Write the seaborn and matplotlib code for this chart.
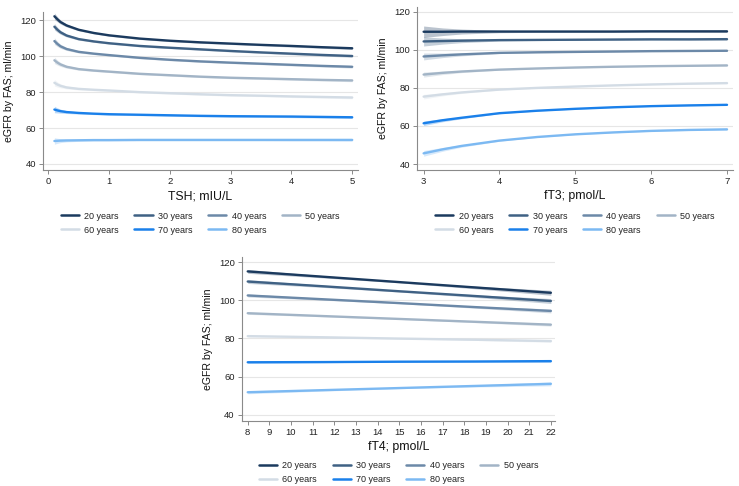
import numpy as np
import pandas as pd
import matplotlib
matplotlib.use("Agg")
import matplotlib.pyplot as plt
import seaborn as sns

sns.set_style("white")
plt.rcParams['font.family'] = ['Liberation Sans', 'DejaVu Sans']

ages = ["20 years", "30 years", "40 years", "50 years", "60 years", "70 years", "80 years"]
colors = ["#1b3a5e", "#3f6184", "#6c89a8", "#a2b4c6", "#d3dce5", "#1a80ea", "#7cb9f2"]

# TSH panel
tsh_x = [0.1, 0.15, 0.2, 0.3, 0.5, 0.75, 1, 1.5, 2, 2.5, 3, 3.5, 4, 4.5, 5]
tsh_vals = {
    "20 years": [122.2, 120.5, 119.0, 117.1, 114.7, 112.9, 111.6, 109.8, 108.6, 107.7, 107.0, 106.3, 105.7, 105.0, 104.4],
    "30 years": [116.4, 114.7, 113.3, 111.5, 109.5, 108.2, 107.2, 105.7, 104.7, 103.8, 102.9, 102.1, 101.4, 100.7, 100.1],
    "40 years": [108.4, 106.8, 105.5, 104.0, 102.4, 101.4, 100.6, 99.1, 98.0, 97.1, 96.4, 95.8, 95.2, 94.6, 94.1],
    "50 years": [97.7, 96.4, 95.4, 94.1, 92.8, 92.0, 91.4, 90.2, 89.4, 88.6, 88.0, 87.6, 87.2, 86.8, 86.5],
    "60 years": [85.2, 84.2, 83.5, 82.6, 81.8, 81.3, 80.9, 80.0, 79.4, 78.8, 78.3, 78.0, 77.6, 77.3, 77.0],
    "70 years": [70.3, 69.8, 69.4, 68.9, 68.4, 68.0, 67.7, 67.4, 67.1, 66.8, 66.6, 66.5, 66.4, 66.2, 66.0],
    "80 years": [52.8, 52.9, 53.0, 53.1, 53.2, 53.3, 53.3, 53.4, 53.4, 53.4, 53.4, 53.4, 53.4, 53.4, 53.4],
}
tsh_ci = [1.8, 1.4, 1.1, 0.8, 0.6, 0.5, 0.5, 0.5, 0.5, 0.5, 0.5, 0.5, 0.6, 0.6, 0.7]

# fT3 panel
ft3_x = [3, 3.25, 3.5, 4, 4.5, 5, 5.5, 6, 6.5, 7]
ft3_vals = {
    "20 years": [109.5, 109.5, 109.6, 109.6, 109.6, 109.6, 109.6, 109.7, 109.7, 109.7],
    "30 years": [104.4, 104.6, 104.8, 105.1, 105.2, 105.3, 105.4, 105.5, 105.5, 105.6],
    "40 years": [96.5, 97.1, 97.6, 98.4, 98.7, 98.9, 99.1, 99.3, 99.4, 99.5],
    "50 years": [87.0, 87.9, 88.6, 89.6, 90.2, 90.7, 91.1, 91.4, 91.6, 91.8],
    "60 years": [75.4, 76.6, 77.6, 79.1, 80.0, 80.7, 81.3, 81.8, 82.2, 82.5],
    "70 years": [61.4, 63.0, 64.3, 66.7, 68.0, 69.0, 69.8, 70.4, 70.8, 71.1],
    "80 years": [45.6, 47.7, 49.5, 52.3, 54.2, 55.6, 56.6, 57.4, 57.9, 58.2],
}
ft3_ci = [3.0, 2.0, 1.3, 0.6, 0.4, 0.4, 0.4, 0.4, 0.5, 0.6]
ft3_ci_scale = [1.0, 0.8, 0.6, 0.45, 0.4, 0.4, 0.5]

# fT4 panel
ft4_x = [8, 11.5, 15, 18.5, 22]
ft4_vals = {
    "20 years": [115.1, 112.3, 109.5, 106.7, 103.9],
    "30 years": [109.8, 107.3, 104.7, 102.2, 99.6],
    "40 years": [102.5, 100.5, 98.5, 96.4, 94.4],
    "50 years": [93.2, 91.7, 90.2, 88.7, 87.2],
    "60 years": [81.2, 80.6, 79.9, 79.3, 78.6],
    "70 years": [67.5, 67.6, 67.8, 67.9, 68.1],
    "80 years": [51.8, 52.9, 54.0, 55.1, 56.2],
}
ft4_ci = [1.0, 0.6, 0.4, 0.7, 1.3]

def long_df(xs, vals):
    rows = []
    for a in ages:
        for x, y in zip(xs, vals[a]):
            rows.append({"x": x, "y": y, "age": a})
    return pd.DataFrame(rows)

fig = plt.figure(figsize=(7.39, 4.86), dpi=100)
ax1 = fig.add_axes([0.058, 0.650, 0.426, 0.325])
ax2 = fig.add_axes([0.564, 0.650, 0.428, 0.336])
ax3 = fig.add_axes([0.327, 0.134, 0.424, 0.337])

panels = [
    (ax1, tsh_x, tsh_vals, tsh_ci, [1] * 7, "TSH; mIU/L", (-0.09, 5.09), (36.6, 124.5), [0, 1, 2, 3, 4, 5], 0.541),
    (ax2, ft3_x, ft3_vals, ft3_ci, ft3_ci_scale, "fT3; pmol/L", (2.91, 7.08), (36.8, 122.6), [3, 4, 5, 6, 7], 0.541),
    (ax3, ft4_x, ft4_vals, ft4_ci, [1, 1, 0.8, 0.6, 0.5, 0.5, 0.8], "fT4; pmol/L", (7.72, 22.19), (36.8, 122.6), list(range(8, 23)), 0.028),
]

# row-major legend order for a 4-column legend (matplotlib fills column-wise)
leg_order = [0, 4, 1, 5, 2, 6, 3]

for ax, xs, vals, ci, scale, xlabel, xlim, ylim, xticks, legy in panels:
    df = long_df(xs, vals)
    for a, c, s in zip(ages, colors, scale):
        y = np.array(vals[a])
        h = np.array(ci) * s
        ax.fill_between(xs, y - h, y + h, color=c, alpha=0.3, lw=0, zorder=2)
    sns.lineplot(data=df, x="x", y="y", hue="age", palette=colors, hue_order=ages,
                 ax=ax, lw=1.7, zorder=3, legend=True)
    ax.set_xlim(*xlim)
    ax.set_ylim(*ylim)
    ax.set_xticks(xticks)
    ax.set_yticks([40, 60, 80, 100, 120])
    ax.yaxis.grid(True, color="#e6e6e6", lw=0.8)
    ax.set_axisbelow(True)
    for sp in ["top", "right"]:
        ax.spines[sp].set_visible(False)
    for sp in ["left", "bottom"]:
        ax.spines[sp].set_color("#8a8a8a")
        ax.spines[sp].set_linewidth(0.8)
    ax.tick_params(axis="both", which="both", direction="out", length=3, width=0.7,
                   color="#8a8a8a", labelsize=6.8, labelcolor="#222222", pad=2, left=True, bottom=True)
    ax.set_xlabel(xlabel, fontsize=8.8, color="#111111", labelpad=3)
    ax.set_ylabel("eGFR by FAS; ml/min", fontsize=7.6, color="#111111", labelpad=4)
    ax.get_legend().remove()
    handles = [plt.Line2D([], [], color=c, lw=1.8) for c in colors]
    bb = ax.get_position()
    fig.legend([handles[i] for i in leg_order], [ages[i] for i in leg_order],
               loc="center", bbox_to_anchor=((bb.x0 + bb.x1) / 2, legy),
               ncol=4, frameon=False, fontsize=6.5, handlelength=2.0, columnspacing=1.75,
               handletextpad=0.6, labelspacing=0.55, labelcolor="#222222")

fig.savefig("out.png", dpi=100)
